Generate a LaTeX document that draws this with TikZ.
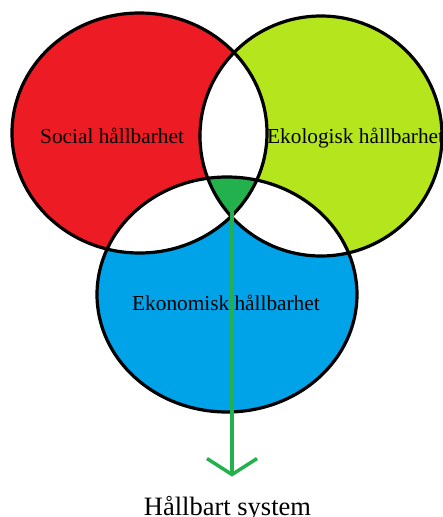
\documentclass[tikz,border=0pt]{standalone}
\usepackage{fontspec}
\setmainfont{Liberation Serif}
\usetikzlibrary{arrows.meta}

\definecolor{socialred}{HTML}{ED1C24}
\definecolor{ekolime}{HTML}{B5E61D}
\definecolor{ekoblue}{HTML}{00A2E8}
\definecolor{hallgreen}{HTML}{22B14C}

\begin{document}
\begin{tikzpicture}[x=1pt,y=-1pt]
\tikzstyle{rim}=[draw=black, line width=3.2pt]
\tikzstyle{caption}=[inner sep=0pt, font=\fontsize{21.3}{24}\selectfont]
\tikzstyle{flow}=[draw=hallgreen, line width=3.5pt,
  -{Straight Barb[length=16pt, width=50pt, line width=3.5pt]}]

\useasboundingbox (0,0) rectangle (443,517);
\clip (0,0) rectangle (443,517);

% the three circles
\def\social{(139.5,133) ellipse [x radius=127.5, y radius=120]}
\def\ekologi{(321,136) ellipse [x radius=121, y radius=120]}
\def\ekonomi{(227,294.5) ellipse [x radius=130, y radius=117.5]}

\fill[socialred] \social;
\fill[ekolime] \ekologi;
\fill[ekoblue] \ekonomi;

% overlaps of two circles stay white
\begin{scope}
  \clip \social;
  \fill[white] \ekologi;
  \fill[white] \ekonomi;
\end{scope}
\begin{scope}
  \clip \ekologi;
  \fill[white] \ekonomi;
\end{scope}
% overlap of all three
\begin{scope}
  \clip \social;
  \clip \ekologi;
  \fill[hallgreen] \ekonomi;
\end{scope}

\draw[rim] \social;
\draw[rim] \ekologi;
\draw[rim] \ekonomi;

\node[caption, anchor=base west] (social) at (40,143) {Social hållbarhet};
\node[caption, anchor=base west] (ekologi) at (267,143) {Ekologisk hållbarhet};
\node[caption, anchor=base west] (ekonomi) at (132,310) {Ekonomisk hållbarhet};
\node[inner sep=0pt, font=\fontsize{26.5}{30}\selectfont, anchor=base]
  (system) at (227.5,515) {Hållbart system};

\coordinate (core) at (232,195);
\draw[flow, shorten >=19pt] (core) -- (core |- system.north);
\end{tikzpicture}
\end{document}
